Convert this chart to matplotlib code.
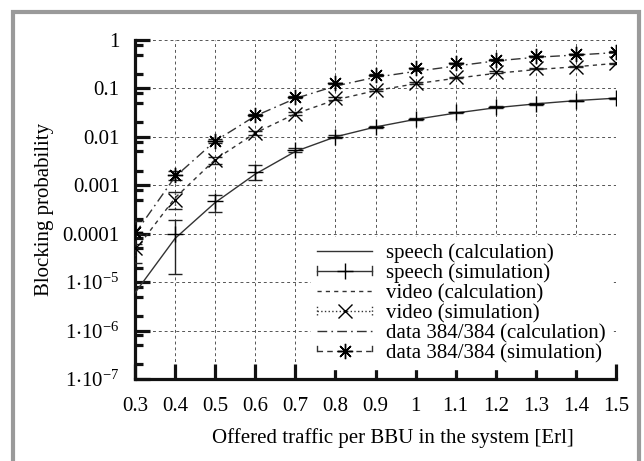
import numpy as np
import matplotlib
matplotlib.use("Agg")
import matplotlib.pyplot as plt
from matplotlib.lines import Line2D
from matplotlib.patches import Rectangle
from matplotlib.legend_handler import HandlerBase
from matplotlib.ticker import LogLocator, FixedLocator, NullFormatter

plt.rcParams['font.family'] = ['Liberation Serif', 'DejaVu Serif']
plt.rcParams['mathtext.fontset'] = 'custom'
plt.rcParams['mathtext.rm'] = 'Liberation Serif'
plt.rcParams['mathtext.it'] = 'Liberation Serif:italic'

# ---------------- data ----------------
x = [0.3, 0.4, 0.5, 0.6, 0.7, 0.8, 0.9, 1.0, 1.1, 1.2, 1.3, 1.4, 1.5]
x_speech_sim = [0.4, 0.5, 0.6, 0.7, 0.8, 0.9, 1.0, 1.1, 1.2, 1.3, 1.4, 1.5]

speech_calc = [6e-6, 8e-5, 4.4e-4, 1.7e-3, 5.0e-3, 1.0e-2, 1.6e-2, 2.3e-2, 3.1e-2, 4.0e-2, 4.8e-2, 5.6e-2, 6.3e-2]
speech_sim = [1.0e-4, 4.7e-4, 1.9e-3, 5.3e-3, 1.0e-2, 1.6e-2, 2.35e-2, 3.2e-2, 4.1e-2, 4.8e-2, 5.6e-2, 6.3e-2]
speech_lo = [1.5e-5, 2.8e-4, 1.3e-3, 4.8e-3, 9.3e-3, 1.5e-2, 2.25e-2, 3.1e-2, 3.95e-2, 4.65e-2, 5.45e-2, 6.15e-2]
speech_hi = [1.9e-4, 6.3e-4, 2.6e-3, 5.9e-3, 1.08e-2, 1.7e-2, 2.45e-2, 3.3e-2, 4.25e-2, 4.95e-2, 5.75e-2, 6.45e-2]

video_calc = [4.5e-5, 5.5e-4, 3.4e-3, 1.2e-2, 3.0e-2, 5.8e-2, 9.0e-2, 0.125, 0.162, 0.205, 0.245, 0.28, 0.33]
video_sim = [5e-5, 5e-4, 3.3e-3, 1.2e-2, 3.0e-2, 6.2e-2, 9.3e-2, 0.13, 0.17, 0.22, 0.26, 0.28, 0.33]
video_lo = [2.5e-5, 3.3e-4, 2.8e-3, 1.1e-2, 2.8e-2, 5.9e-2, 8.9e-2, 0.125, 0.165, 0.212, 0.252, 0.272, 0.32]
video_hi = [1.0e-4, 7.4e-4, 3.9e-3, 1.3e-2, 3.2e-2, 6.5e-2, 9.7e-2, 0.135, 0.175, 0.228, 0.268, 0.288, 0.34]

data_calc = [1.0e-4, 1.5e-3, 8.2e-3, 2.7e-2, 6.2e-2, 0.112, 0.17, 0.225, 0.29, 0.37, 0.44, 0.49, 0.55]
data_sim = [1.1e-4, 1.6e-3, 8.3e-3, 2.8e-2, 6.7e-2, 0.127, 0.19, 0.26, 0.33, 0.39, 0.46, 0.51, 0.57]
data_lo = [6e-5, 1.3e-3, 7.6e-3, 2.65e-2, 6.4e-2, 0.122, 0.184, 0.253, 0.322, 0.382, 0.45, 0.50, 0.56]
data_hi = [1.8e-4, 2.0e-3, 9.0e-3, 2.95e-2, 7.0e-2, 0.132, 0.196, 0.267, 0.338, 0.398, 0.47, 0.52, 0.58]

x_ticks = [0.3, 0.4, 0.5, 0.6, 0.7, 0.8, 0.9, 1.0, 1.1, 1.2, 1.3, 1.4, 1.5]
x_ticklabels = ['0.3', '0.4', '0.5', '0.6', '0.7', '0.8', '0.9', '1', '1.1', '1.2', '1.3', '1.4', '1.5']
y_ticks = [1, 0.1, 0.01, 0.001, 0.0001, 1e-5, 1e-6, 1e-7]
y_ticklabels = ['1', '0.1', '0.01', '0.001', '0.0001',
                r'$\mathregular{1{\cdot}10^{-5}}$', r'$\mathregular{1{\cdot}10^{-6}}$',
                r'$\mathregular{1{\cdot}10^{-7}}$']
labels = ['speech (calculation)', 'speech (simulation)', 'video (calculation)',
          'video (simulation)', 'data 384/384 (calculation)', 'data 384/384 (simulation)']

# ---------------- figure ----------------
fig = plt.figure(figsize=(6.44, 4.61), dpi=100)
ax = fig.add_axes([135/644, 1-379/461, (616-135)/644, (379-40)/461])

LC = '#333333'
ax.set_yscale('log')
ax.set_xlim(0.3, 1.5)
ax.set_ylim(1e-7, 1)

# calculation lines
l1, = ax.plot(x, speech_calc, '-', color=LC, lw=1.0, zorder=3)
l3, = ax.plot(x, video_calc, color=LC, lw=1.0, dashes=(3, 3), zorder=3)
l5, = ax.plot(x, data_calc, color=LC, lw=1.0, dashes=(7, 3, 1.2, 3), zorder=3)

def err(xs, ys, lo, hi):
    ys = np.array(ys); lo = np.array(lo); hi = np.array(hi)
    return np.vstack([ys - lo, hi - ys])

e2 = ax.errorbar(x_speech_sim, speech_sim, yerr=err(x_speech_sim, speech_sim, speech_lo, speech_hi),
                 fmt='+', color='black', ms=11, mew=1.0, elinewidth=1.0, capsize=5,
                 capthick=1.0, ecolor='#222222', zorder=4)
e4 = ax.errorbar(x, video_sim, yerr=err(x, video_sim, video_lo, video_hi),
                 fmt='x', color='black', ms=10, mew=1.0, elinewidth=1.0, capsize=5,
                 capthick=1.0, ecolor='#222222', zorder=4)
e4[2][0].set_linestyle(':')
e6 = ax.errorbar(x, data_sim, yerr=err(x, data_sim, data_lo, data_hi),
                 fmt='none', ecolor='#222222', elinewidth=1.0, capsize=5, capthick=1.0, zorder=4)
e6[2][0].set_linestyle('--')
ax.plot(x, data_sim, ls='none', marker=(8, 2, 0), ms=11, mew=1.0, color='black', zorder=5)

# axes styling
for s in ['top', 'right']:
    ax.spines[s].set_visible(False)
for s in ['left', 'bottom']:
    ax.spines[s].set_linewidth(2.3)
    ax.spines[s].set_color('#111111')

ax.set_xticks(x_ticks)
ax.set_xticklabels(x_ticklabels)
ax.yaxis.set_major_locator(FixedLocator(y_ticks))
ax.set_yticklabels(y_ticklabels)
ax.yaxis.set_minor_locator(LogLocator(base=10, subs=[2, 5, 8], numticks=20))
ax.yaxis.set_minor_formatter(NullFormatter())
ax.xaxis.set_minor_locator(FixedLocator([]))

ax.tick_params(axis='both', which='major', direction='in', length=11, width=2.3,
               color='#111111', labelsize=15, pad=11)
ax.tick_params(axis='y', which='minor', direction='in', length=6, width=2.3, color='#111111')
ax.tick_params(axis='x', which='major', pad=13)

ax.grid(True, which='major', color='#555555', lw=0.7, dashes=(3, 3))
ax.set_axisbelow(True)

ax.set_ylabel('Blocking probability', fontsize=15, labelpad=6)
fig.text(393/644, 1-438/461, 'Offered traffic per BBU in the system [Erl]', fontsize=15,
         ha='center', va='center')

# legend with gnuplot-style error bar samples
class GnuErr(HandlerBase):
    def __init__(self, ls, marker, ms, capstyle):
        super().__init__()
        self.ls = ls; self.marker = marker; self.ms = ms; self.capstyle = capstyle
    def create_artists(self, legend, orig_handle, xdescent, ydescent, width, height, fontsize, trans):
        x0 = -xdescent; x1 = -xdescent + width; yc = -ydescent + height / 2
        h = height * 0.3
        arts = [Line2D([x0, x1], [yc, yc], color=LC, lw=1.0, **self.ls)]
        if self.capstyle == 'full':
            arts.append(Line2D([x0, x0], [yc - h, yc + h], color=LC, lw=1.0))
            arts.append(Line2D([x1, x1], [yc - h, yc + h], color=LC, lw=1.0))
        elif self.capstyle == 'dotted':
            arts.append(Line2D([x0, x0], [yc - h, yc + h], color=LC, lw=1.0, ls=':'))
            arts.append(Line2D([x1, x1], [yc - h, yc + h], color=LC, lw=1.0, ls=':'))
        else:
            arts.append(Line2D([x0, x0], [yc, yc + h], color=LC, lw=1.0))
            arts.append(Line2D([x1, x1], [yc, yc + h], color=LC, lw=1.0))
        arts.append(Line2D([(x0 + x1) / 2], [yc], ls='none', marker=self.marker, ms=self.ms,
                           mew=1.0, color='black'))
        for a in arts:
            a.set_transform(trans)
        return arts

hmap = {e2: GnuErr({'ls': '-'}, '+', 11, 'full'),
        e4: GnuErr({'ls': ':'}, 'x', 10, 'dotted'),
        e6: GnuErr({'dashes': (4, 3)}, (8, 2, 0), 11, 'half')}
leg = ax.legend([l1, e2, l3, e4, l5, e6], labels, handler_map=hmap,
                loc='upper left', bbox_to_anchor=((311-135)/481, (379-237)/339),
                borderaxespad=0, fontsize=15, handlelength=2.65, handletextpad=0.65,
                labelspacing=0.02, borderpad=0.3, frameon=True, fancybox=False,
                facecolor='white', edgecolor='white', framealpha=1.0)
leg.set_zorder(6)

# gray outer frame
fig.patches.append(Rectangle((13/644, -0.05), (639-13)/644, 1.05 - 12/461, transform=fig.transFigure,
                             fill=False, edgecolor='#9a9a9a', lw=3.0, clip_on=False))

fig.savefig('out.png', dpi=100)
